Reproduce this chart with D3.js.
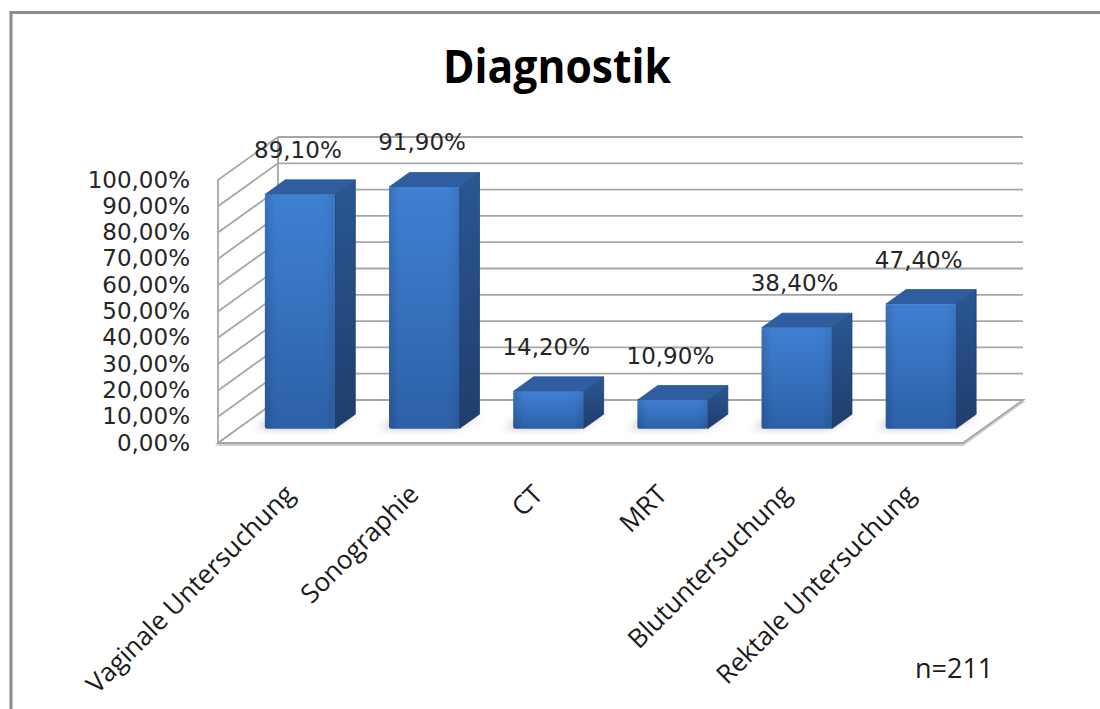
<!DOCTYPE html>
<html>
<head>
<meta charset="utf-8">
<script src="https://cdn.jsdelivr.net/npm/d3@7"></script>
<style>
  html, body { margin: 0; padding: 0; background: #fff; }
  svg { display: block; }
</style>
</head>
<body>
<svg id="chart" width="1100" height="709"></svg>
<script>
// ---- data ----
const categories = ["Vaginale Untersuchung", "Sonographie", "CT", "MRT", "Blutuntersuchung", "Rektale Untersuchung"];
const values = [0.891, 0.919, 0.142, 0.109, 0.384, 0.474];
const tickValues = [0, 0.1, 0.2, 0.3, 0.4, 0.5, 0.6, 0.7, 0.8, 0.9, 1.0];
const titleText = "Diagnostik";
const noteText = "n=211";

// ---- layout ----
const svg = d3.select("#chart");
const W = 1100, H = 709;
const DX = 60, DY = -43;      // full depth offset of the 3D box
const T0 = 0.33, T1 = 0.67;   // bar depth (fraction of box depth)

const x = d3.scaleBand().domain(categories).range([218, 963]).paddingInner(0.436).paddingOuter(0.218);
const y = d3.scaleLinear().domain([0, 1]).range([443, 180]);
const fmt = v => d3.format(".2f")(v * 100).replace(".", ",") + "%";
const P = (px, py, t) => [px + DX * t, py + DY * t];

const defs = svg.append("defs");
const gFront = defs.append("linearGradient").attr("id", "gFront").attr("x1", 0).attr("y1", 0).attr("x2", 0).attr("y2", 1);
gFront.append("stop").attr("offset", "0%").attr("stop-color", "#3f80d2");
gFront.append("stop").attr("offset", "100%").attr("stop-color", "#2d60a8");
const gFrontH = defs.append("linearGradient").attr("id", "gFrontH").attr("x1", 0).attr("y1", 0).attr("x2", 1).attr("y2", 0);
gFrontH.append("stop").attr("offset", "0%").attr("stop-color", "#000").attr("stop-opacity", 0.12);
gFrontH.append("stop").attr("offset", "15%").attr("stop-color", "#000").attr("stop-opacity", 0);
gFrontH.append("stop").attr("offset", "85%").attr("stop-color", "#000").attr("stop-opacity", 0);
gFrontH.append("stop").attr("offset", "100%").attr("stop-color", "#000").attr("stop-opacity", 0.08);
const gSide = defs.append("linearGradient").attr("id", "gSide").attr("x1", 0).attr("y1", 0).attr("x2", 0).attr("y2", 1);
gSide.append("stop").attr("offset", "0%").attr("stop-color", "#2a5793");
gSide.append("stop").attr("offset", "100%").attr("stop-color", "#1f3e6c");
const blur = defs.append("filter").attr("id", "blur").attr("x", "-50%").attr("y", "-50%").attr("width", "200%").attr("height", "200%");
blur.append("feGaussianBlur").attr("stdDeviation", 4);

// ---- frame ----
svg.append("path")
  .attr("d", `M11,${H} L11,12.5 L${W},12.5`)
  .attr("fill", "none").attr("stroke", "#8c8c8c").attr("stroke-width", 3);

// ---- title ----
svg.append("text")
  .attr("x", 557).attr("y", 83)
  .attr("text-anchor", "middle")
  .attr("font-family", "'Open Sans', sans-serif")
  .attr("font-weight", "bold")
  .attr("font-size", 46)
  .attr("textLength", 228).attr("lengthAdjust", "spacingAndGlyphs")
  .attr("fill", "#000")
  .text(titleText);

// ---- walls & gridlines ----
const X0 = x.range()[0], X1 = x.range()[1];
const grid = svg.append("g").attr("stroke", "#a6a6a6").attr("stroke-width", 1.8).attr("fill", "none");
// back wall gridlines
grid.selectAll("line.back").data(tickValues).join("line").attr("class", "back")
  .attr("x1", d => P(X0, y(d), 1)[0]).attr("y1", d => P(X0, y(d), 1)[1])
  .attr("x2", d => P(X1, y(d), 1)[0]).attr("y2", d => P(X1, y(d), 1)[1]);
// side wall gridlines
grid.selectAll("line.side").data(tickValues).join("line").attr("class", "side")
  .attr("x1", d => P(X0, y(d), 0)[0]).attr("y1", d => P(X0, y(d), 0)[1])
  .attr("x2", d => P(X0, y(d), 1)[0]).attr("y2", d => P(X0, y(d), 1)[1]);
// side wall verticals
grid.append("line").attr("x1", X0).attr("y1", y(0)).attr("x2", X0).attr("y2", y(1));
grid.append("line").attr("x1", P(X0, y(0), 1)[0]).attr("y1", P(X0, y(0), 1)[1]).attr("x2", P(X0, y(1), 1)[0]).attr("y2", P(X0, y(1), 1)[1]);
// floor
const floorPts = [P(X0, y(0), 0), P(X1, y(0), 0), P(X1, y(0), 1), P(X0, y(0), 1)];
svg.append("polygon")
  .attr("points", floorPts.map(p => p.join(",")).join(" ").replace(/^/, ""))
  .attr("transform", "translate(0,2)")
  .attr("fill", "none").attr("stroke", "#d0d0d0").attr("stroke-width", 2);
svg.append("polygon")
  .attr("points", floorPts.map(p => p.join(",")).join(" "))
  .attr("fill", "#fff").attr("stroke", "#a6a6a6").attr("stroke-width", 1.8);

// ---- bars ----
const bw = x.bandwidth();
const bars = svg.append("g");
categories.forEach((c, i) => {
  const v = values[i];
  const xl = x(c), xr = xl + bw, yb = y(0), yt = y(v);
  const g = bars.append("g");
  // floor shadow
  const sh = [P(xl - 10, yb, T0 + 0.02), P(xr - 6, yb, T0 + 0.02), P(xr, yb, T1), P(xl - 4, yb, T1)];
  g.append("polygon").attr("points", sh.map(p => p.join(",")).join(" "))
    .attr("fill", "#7a7a7a").attr("opacity", 0.55).attr("filter", "url(#blur)");
  // side face
  const side = [P(xr, yt, T0), P(xr, yt, T1), P(xr, yb, T1), P(xr, yb, T0)];
  g.append("polygon").attr("points", side.map(p => p.join(",")).join(" "))
    .attr("fill", "url(#gSide)").attr("stroke", "#1f3e6c").attr("stroke-width", 0.8).attr("stroke-linejoin", "round");
  // top face
  const top = [P(xl, yt, T0), P(xr, yt, T0), P(xr, yt, T1), P(xl, yt, T1)];
  g.append("polygon").attr("points", top.map(p => p.join(",")).join(" "))
    .attr("fill", "#2e5e9f").attr("stroke", "#2b5894").attr("stroke-width", 0.8).attr("stroke-linejoin", "round");
  // front face
  const f0 = P(xl, yt, T0);
  g.append("rect").attr("x", f0[0]).attr("y", f0[1]).attr("width", bw).attr("height", yb - yt)
    .attr("rx", 2).attr("fill", "url(#gFront)");
  g.append("rect").attr("x", f0[0]).attr("y", f0[1]).attr("width", bw).attr("height", yb - yt)
    .attr("rx", 2).attr("fill", "url(#gFrontH)");
  // data label
  const lt = P(xl + bw / 2 - 2, yt, T1);
  svg.append("text")
    .attr("x", P(xl + bw / 2 - 2, yt, T0)[0]).attr("y", lt[1] - 22)
    .attr("text-anchor", "middle")
    .attr("font-family", "'DejaVu Sans', Verdana, sans-serif")
    .attr("font-size", 23).attr("fill", "#262626")
    .text(fmt(v));
});

// ---- y tick labels ----
svg.append("g").selectAll("text").data(tickValues).join("text")
  .attr("x", 190).attr("y", d => y(d) + 1)
  .attr("text-anchor", "end").attr("dominant-baseline", "middle")
  .attr("font-family", "'DejaVu Sans', Verdana, sans-serif")
  .attr("font-size", 23).attr("fill", "#262626")
  .text(d => fmt(d));

// ---- category labels ----
svg.append("g").selectAll("text").data(categories).join("text")
  .attr("transform", d => `translate(${x(d) + bw / 2 + 16},496) rotate(-45)`)
  .attr("text-anchor", "end")
  .attr("font-family", "'Open Sans', sans-serif")
  .attr("font-size", 26).attr("fill", "#1a1a1a")
  .text(d => d);

// ---- note ----
svg.append("text")
  .attr("x", 915).attr("y", 678)
  .attr("font-family", "'Open Sans', sans-serif")
  .attr("font-size", 27).attr("fill", "#1a1a1a")
  .text(noteText);
</script>
</body>
</html>
